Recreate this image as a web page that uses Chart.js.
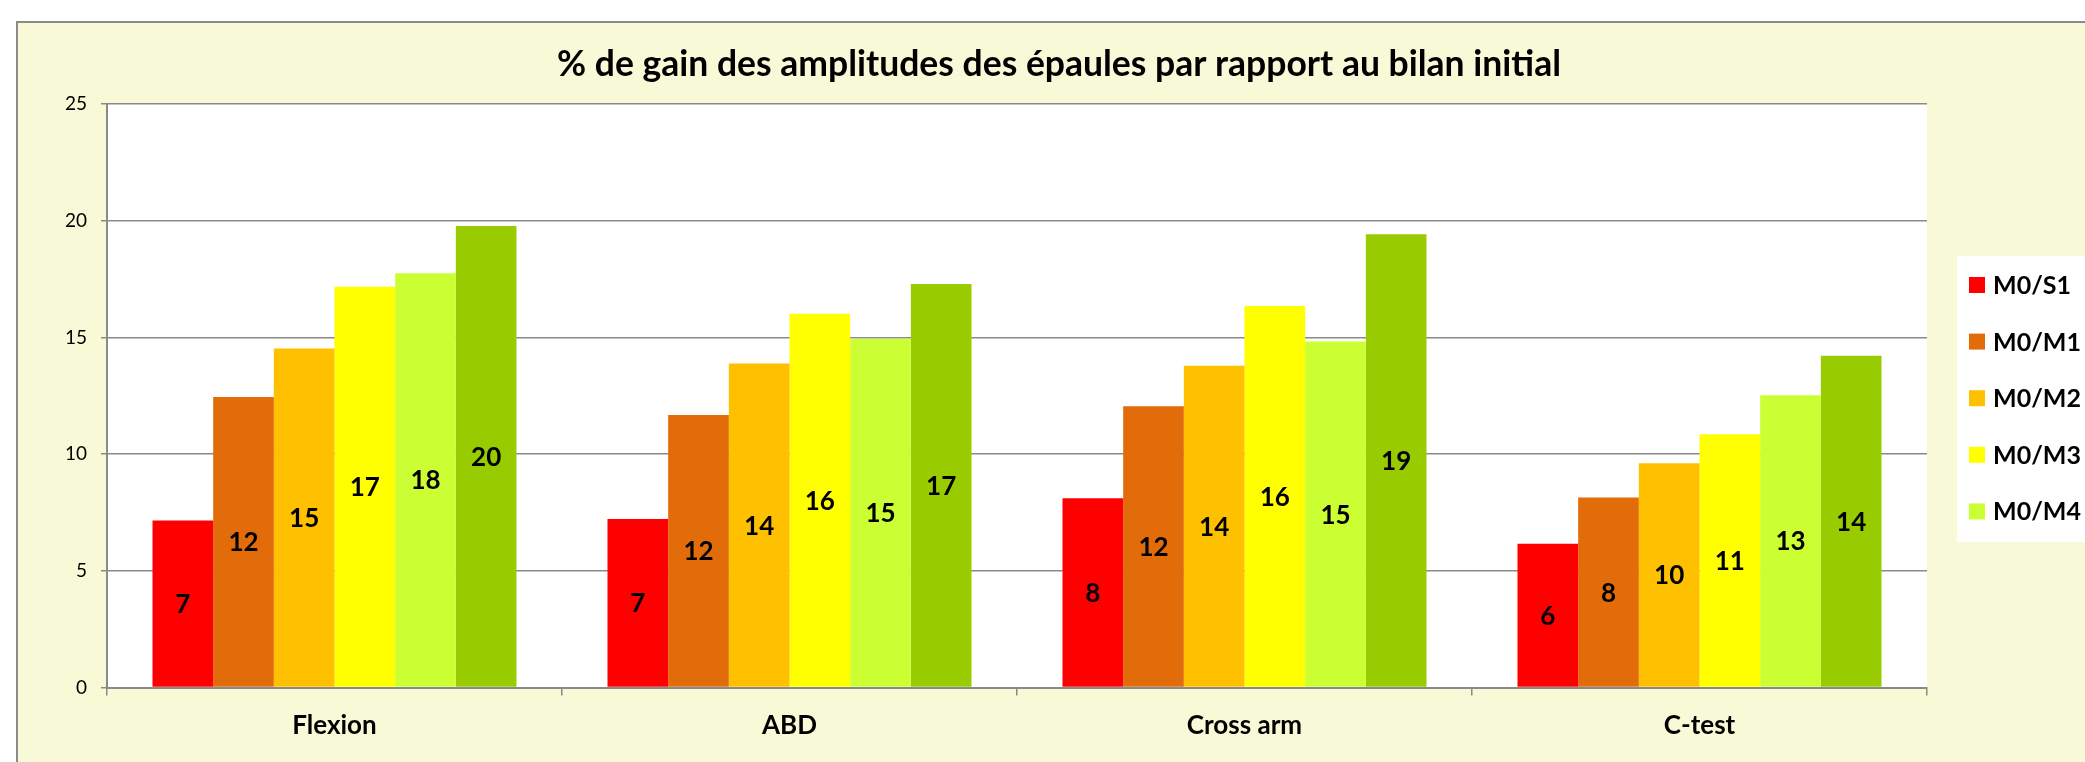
<!DOCTYPE html>
<html>
<head>
<meta charset="utf-8">
<script src="https://cdn.jsdelivr.net/npm/chart.js@4.4.0/dist/chart.umd.min.js"></script>
<style>
    body { margin: 0; background: #fff; overflow: hidden; }
    #frame {
        position: absolute; left: 16px; top: 21px;
        width: 2082px; height: 790px;
        border-left: 2px solid #8a8a8a; border-top: 2px solid #8a8a8a;
        background: #F8F9D6;
    }
    #gainChart { display: block; }
</style>
</head>
<body>
<div id="frame"><canvas id="gainChart" width="2082" height="790"></canvas></div>
<script>
var categories = ['Flexion', 'ABD', 'Cross arm', 'C-test'];
var seriesNames = ['M0/S1', 'M0/M1', 'M0/M2', 'M0/M3', 'M0/M4', 'M0/M5'];
var seriesColors = ['#FF0000', '#E36C0A', '#FFC000', '#FFFF00', '#CCFF33', '#99CC00'];

var m0s1 = [7.15, 7.22, 8.11, 6.16];
var m0m1 = [12.45, 11.67, 12.05, 8.14];
var m0m2 = [14.52, 13.88, 13.78, 9.61];
var m0m3 = [17.17, 16.01, 16.34, 10.85];
var m0m4 = [17.75, 14.94, 14.82, 12.52];
var m0m5 = [19.77, 17.29, 19.42, 14.21];

var yTicks = [0, 5, 10, 15, 20, 25];

var allSeries = [m0s1, m0m1, m0m2, m0m3, m0m4, m0m5];
var datasets = [];
for (var i = 0; i < allSeries.length; i++) {
    datasets.push({
        label: seriesNames[i],
        data: allSeries[i],
        backgroundColor: seriesColors[i],
        borderWidth: 0,
        categoryPercentage: 0.8,
        barPercentage: 1.0
    });
}

// plot area white, rest of chart stays yellow from the frame
var plotBackground = {
    id: 'plotBackground',
    beforeDraw: function (chart) {
        var a = chart.chartArea;
        var ctx = chart.ctx;
        ctx.save();
        ctx.fillStyle = '#FFFFFF';
        ctx.fillRect(a.left, a.top, a.right - a.left, a.bottom - a.top);
        ctx.restore();
    }
};

// value labels in the middle of each bar, rounded like excel
var barLabels = {
    id: 'barLabels',
    afterDatasetsDraw: function (chart) {
        var ctx = chart.ctx;
        ctx.save();
        ctx.font = 'bold 26px Lato';
        ctx.fillStyle = '#000';
        ctx.textAlign = 'center';
        ctx.textBaseline = 'middle';
        chart.data.datasets.forEach(function (ds, d) {
            var meta = chart.getDatasetMeta(d);
            meta.data.forEach(function (bar, k) {
                ctx.fillText(Math.round(ds.data[k]), bar.x, (bar.y + bar.base) / 2 + 1);
            });
        });
        ctx.restore();
    }
};

// excel style legend box on the right, cut by the edge of the picture
var sideLegend = {
    id: 'sideLegend',
    afterDraw: function (chart) {
        var ctx = chart.ctx;
        var boxX = chart.chartArea.right + 30;
        var boxY = 233;
        var boxH = 286;
        var step = 56.6;
        ctx.save();
        ctx.fillStyle = '#FFFFFF';
        ctx.fillRect(boxX, boxY, chart.width - boxX - 8, boxH);
        ctx.font = 'bold 25px Lato';
        ctx.textBaseline = 'middle';
        ctx.textAlign = 'left';
        chart.data.datasets.forEach(function (ds, d) {
            var cy = boxY + 29 + d * step;
            if (cy + 12 > boxY + boxH) return;
            ctx.fillStyle = ds.backgroundColor;
            ctx.fillRect(boxX + 12, cy - 8, 16, 16);
            ctx.fillStyle = '#000';
            ctx.fillText(ds.label, boxX + 36, cy + 1);
        });
        ctx.restore();
    }
};

var ctx = document.getElementById('gainChart').getContext('2d');
var gainChart = new Chart(ctx, {
    type: 'bar',
    data: {
        labels: categories,
        datasets: datasets
    },
    options: {
        responsive: false,
        animation: false,
        layout: { padding: 0 },
        plugins: {
            legend: { display: false },
            tooltip: { enabled: false },
            title: {
                display: true,
                text: '% de gain des amplitudes des épaules par rapport au bilan initial',
                color: '#000',
                font: { family: 'Lato', size: 35.5, weight: 'bold', lineHeight: 1.2 },
                padding: { top: 20, bottom: 18.4 }
            }
        },
        scales: {
            x: {
                grid: {
                    display: true,
                    drawOnChartArea: false,
                    drawTicks: true,
                    tickLength: 8,
                    color: '#8a8a8a',
                    lineWidth: 1.5
                },
                border: { display: true, color: '#8a8a8a', width: 2 },
                ticks: {
                    color: '#000',
                    padding: 15,
                    font: { family: 'Lato', size: 26, weight: 'bold' }
                },
                afterFit: function (scale) { scale.height = 125.5; }
            },
            y: {
                min: 0,
                max: 25,
                afterBuildTicks: function (scale) {
                    scale.ticks = yTicks.map(function (v) { return { value: v }; });
                },
                grid: {
                    color: '#8a8a8a',
                    lineWidth: 1.5,
                    tickLength: 6
                },
                border: { display: true, color: '#8a8a8a', width: 2 },
                ticks: {
                    color: '#000',
                    padding: 14,
                    font: { family: 'Lato', size: 19 }
                },
                afterFit: function (scale) { scale.width = 89; }
            },
            // empty scale on the right only keeps room for the legend box
            legendRoom: {
                type: 'linear',
                position: 'right',
                display: true,
                grid: { display: false },
                border: { display: false },
                ticks: { display: false },
                afterFit: function (scale) { scale.width = 173; }
            }
        }
    },
    plugins: [plotBackground, barLabels, sideLegend]
});
</script>
</body>
</html>
